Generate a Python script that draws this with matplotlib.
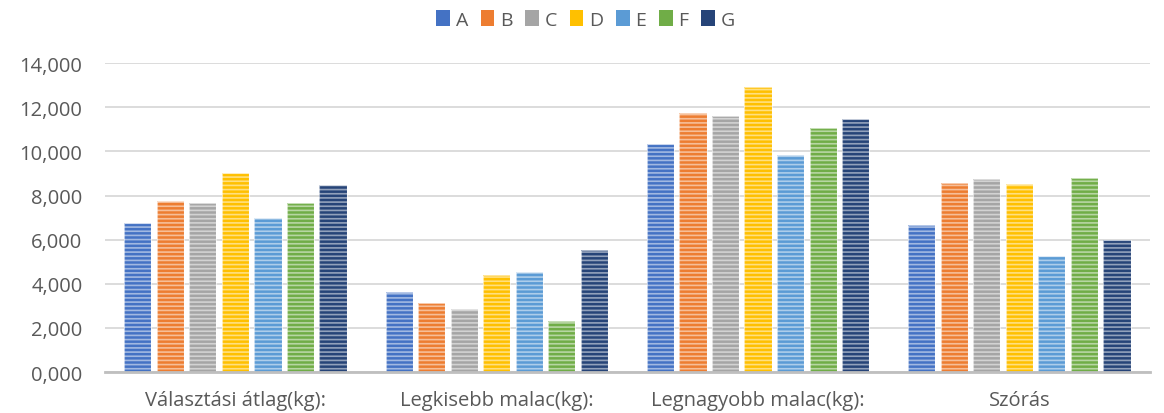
import numpy as np
import matplotlib.pyplot as plt
from matplotlib.ticker import FuncFormatter

plt.rcParams['font.family'] = ['Open Sans', 'DejaVu Sans']
plt.rcParams['hatch.linewidth'] = 1.2

categories = ["Választási átlag(kg):", "Legkisebb malac(kg):",
              "Legnagyobb malac(kg):", "Szórás"]
series = ["A", "B", "C", "D", "E", "F", "G"]
values = {
    "A": [6.75, 3.61, 10.33, 6.66],
    "B": [7.77, 3.12, 11.74, 8.58],
    "C": [7.68, 2.85, 11.59, 8.73],
    "D": [9.00, 4.39, 12.90, 8.52],
    "E": [7.00, 4.54, 9.85, 5.26],
    "F": [7.68, 2.31, 11.06, 8.79],
    "G": [8.50, 5.52, 11.48, 5.98],
}
colors = ["#4472C4", "#ED7D31", "#A5A5A5", "#FFC000", "#5B9BD5", "#70AD47", "#264478"]

fig = plt.figure(figsize=(11.64, 4.14), dpi=100)
ax = fig.add_axes([0.09, 0.099, 0.898, 0.746])

x = np.arange(len(categories))
pitch = 0.1245
width = 0.104
for i, (s, c) in enumerate(zip(series, colors)):
    pos = x + (i - 3) * pitch
    ax.bar(pos, values[s], width, color=c, edgecolor="none", zorder=2, label=s)
    # horizontal stripe texture
    ax.bar(pos, values[s], width, facecolor="none", edgecolor=(1, 1, 1, 0.5),
           hatch="----", linewidth=0, zorder=3)
    ax.bar(pos, values[s], width, facecolor="none", edgecolor=(1, 1, 1, 0.6),
           linewidth=0.8, zorder=4)

ax.set_xlim(-0.5, 3.5)
ax.set_ylim(0, 14)
ax.set_yticks(np.arange(0, 15, 2))
ax.yaxis.set_major_formatter(FuncFormatter(lambda v, p: f"{v:.3f}".replace(".", ",")))
ax.set_xticks(x)
ax.set_xticklabels(categories)
ax.tick_params(axis="both", length=0, labelsize=14.5, colors="#595959")
ax.tick_params(axis="y", pad=16)
ax.tick_params(axis="x", pad=13)
ax.grid(axis="y", color="#D9D9D9", linewidth=1.3, zorder=0)
ax.set_axisbelow(True)
for side in ["left", "right", "top"]:
    ax.spines[side].set_visible(False)
ax.spines["bottom"].set_color("#BFBFBF")
ax.spines["bottom"].set_linewidth(2)
ax.spines["bottom"].set_zorder(5)

handles, labels = ax.get_legend_handles_labels()
leg = fig.legend(handles, labels, loc="upper center", bbox_to_anchor=(0.503, 1.015),
                 ncol=7, frameon=False, fontsize=14, handlelength=0.7,
                 handleheight=0.9, handletextpad=0.3, columnspacing=0.65)
for t in leg.get_texts():
    t.set_color("#595959")

fig.savefig("out.png", dpi=100)
